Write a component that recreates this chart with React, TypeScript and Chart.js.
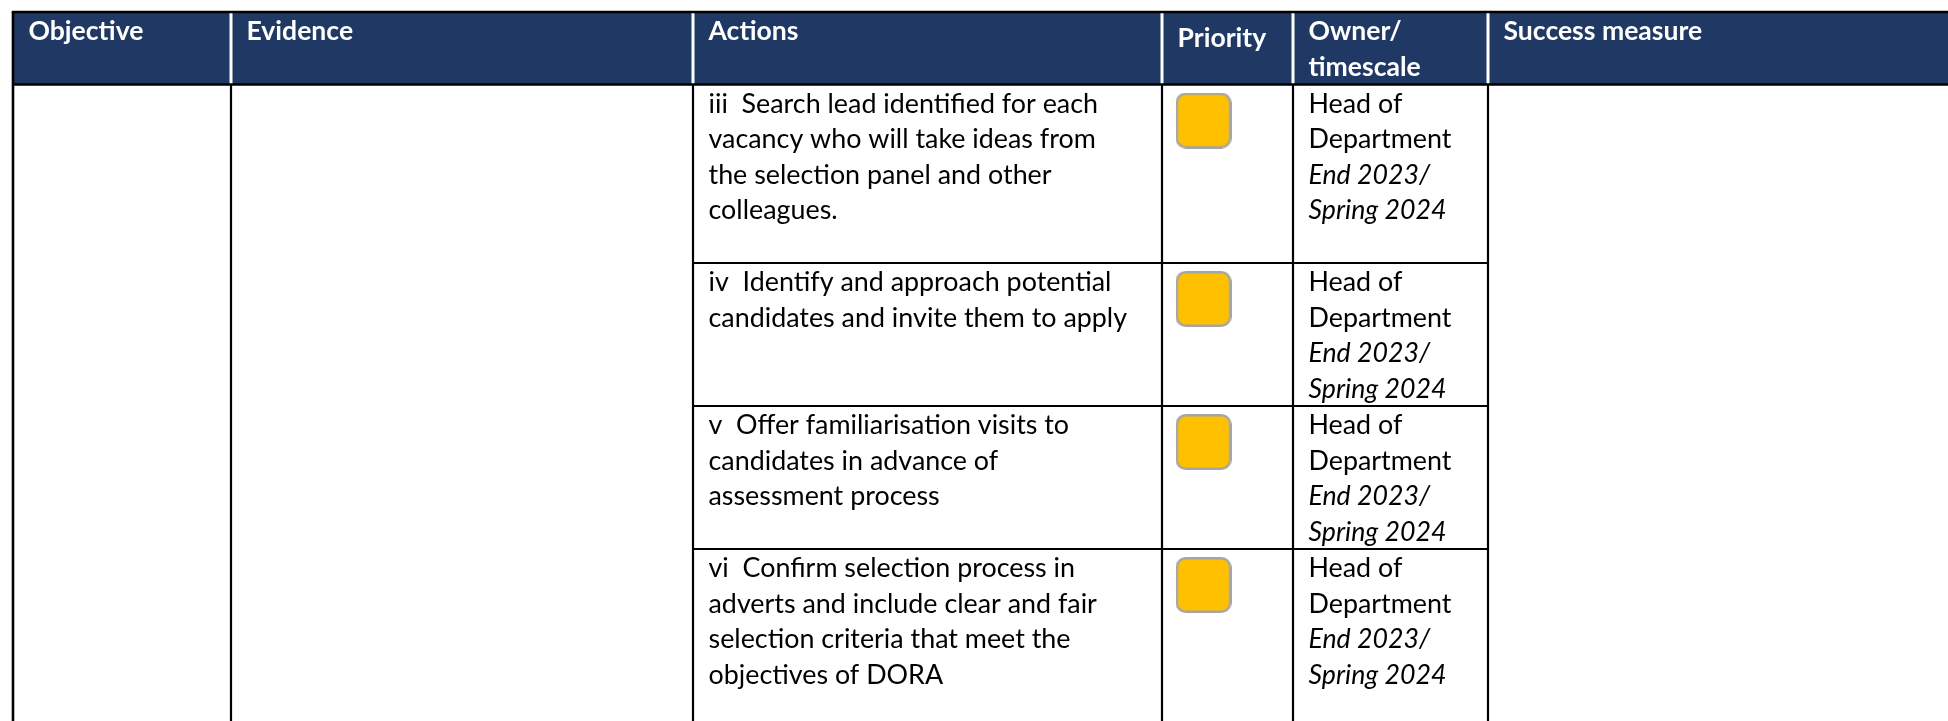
import React, { useEffect, useRef } from "react";
import { Chart, registerables } from "chart.js";

Chart.register(...registerables);

// ---------- data ----------
const headerLabels: string[][] = [
  ["Objective"],
  ["Evidence"],
  ["Actions"],
  ["Priority"],
  ["Owner/", "timescale"],
  ["Success measure"],
];

const actionLines: string[][] = [
  ["iii  Search lead identified for each", "vacancy who will take ideas from", "the selection panel and other", "colleagues.", ""],
  ["iv  Identify and approach potential", "candidates and invite them to apply"],
  ["v  Offer familiarisation visits to", "candidates in advance of", "assessment process"],
  ["vi  Confirm selection process in", "adverts and include clear and fair", "selection criteria that meet the", "objectives of DORA", ""],
];

const ownerLines: string[][] = [
  ["Head of", "Department"],
  ["Head of", "Department"],
  ["Head of", "Department"],
  ["Head of", "Department"],
];

const timescaleLines: string[][] = [
  ["End 2023/", "Spring 2024"],
  ["End 2023/", "Spring 2024"],
  ["End 2023/", "Spring 2024"],
  ["End 2023/", "Spring 2024"],
];

const priorities: string[] = ["Medium", "Medium", "Medium", "Medium"];

// ---------- styles / layout ----------
const W = 1948;
const H = 721;
const NAVY = "#1F3864";
const PRIORITY_COLOURS: Record<string, string> = { High: "#FF0000", Medium: "#FFC000", Low: "#00B050" };
const BOX_BORDER = "#A5A5A5";
const COL_EDGES = [13, 231, 693, 1162, 1293, 1488, W];
const TABLE_TOP = 12;
const HEADER_BOTTOM = 84.5;
const LINE = 35.5; // px per text line
const ROW_PAD = 1; // px
const BASELINE = 28; // px from cell top to first baseline
const CELL_PAD = 15.5;
const PRIORITY_HEADER_SHIFT = 7;
const BOX_SIZE = 56;
const BOX_INSET_X = 13.5;
const BOX_INSET_Y = 8;
const BOX_RADIUS = 9;
const FONT_STACK = "Lato, Carlito, Calibri, 'Noto Sans', sans-serif";

const rowCounts = actionLines.map((a, i) =>
  Math.max(a.length, ownerLines[i].length + timescaleLines[i].length)
);
const rowStarts: number[] = [];
{
  let acc = 0;
  rowCounts.forEach((c) => {
    rowStarts.push(acc);
    acc += c + ROW_PAD / LINE;
  });
  rowStarts.push(acc);
}

function makeBox(fill: string): HTMLCanvasElement {
  const cv = document.createElement("canvas");
  cv.width = BOX_SIZE;
  cv.height = BOX_SIZE;
  const c = cv.getContext("2d")!;
  const lw = 2.5;
  const x0 = lw / 2, y0 = lw / 2, w = BOX_SIZE - lw, h = BOX_SIZE - lw, r = BOX_RADIUS;
  c.beginPath();
  c.moveTo(x0 + r, y0);
  c.arcTo(x0 + w, y0, x0 + w, y0 + h, r);
  c.arcTo(x0 + w, y0 + h, x0, y0 + h, r);
  c.arcTo(x0, y0 + h, x0, y0, r);
  c.arcTo(x0, y0, x0 + w, y0, r);
  c.closePath();
  c.fillStyle = fill;
  c.fill();
  c.lineWidth = lw;
  c.strokeStyle = BOX_BORDER;
  c.stroke();
  return cv;
}

const tablePlugin = {
  id: "tableGrid",
  beforeDatasetsDraw(chart: any) {
    const { ctx } = chart;
    const xs = chart.scales.x;
    const ys = chart.scales.y;
    const px = (v: number) => xs.getPixelForValue(v);
    const py = (v: number) => ys.getPixelForValue(v);
    const linePx = py(1) - py(0);
    const top = py(-(HEADER_BOTTOM - TABLE_TOP) / LINE);
    const hb = py(0);
    const bottom = py(ys.max);
    const left = px(COL_EDGES[0]);
    const right = px(W);

    const fit = (fontFn: (s: number) => string, sample: string, target: number) => {
      ctx.font = fontFn(100);
      const w = ctx.measureText(sample).width;
      return (100 * target) / w;
    };
    const regFn = (s: number) => `${s}px ${FONT_STACK}`;
    const boldFn = (s: number) => `bold ${s}px ${FONT_STACK}`;
    const itFn = (s: number) => `italic ${s}px ${FONT_STACK}`;
    const regSize = fit(regFn, "Department", 143);
    const boldSize = fit(boldFn, "Objective", 115);
    const itSize = fit(itFn, "Spring 2024", 138);

    ctx.save();
    // header background
    ctx.fillStyle = NAVY;
    ctx.fillRect(left, top, right - left, hb - top);

    const line = (x1: number, y1: number, x2: number, y2: number, col: string, lw: number) => {
      ctx.beginPath();
      ctx.moveTo(x1, y1);
      ctx.lineTo(x2, y2);
      ctx.strokeStyle = col;
      ctx.lineWidth = lw;
      ctx.stroke();
    };

    // header separators (white)
    for (let i = 1; i < COL_EDGES.length - 1; i++) {
      const x = px(COL_EDGES[i]);
      line(x, top, x, hb, "#FFFFFF", 3);
    }
    // body vertical lines
    for (let i = 1; i < COL_EDGES.length - 1; i++) {
      const x = px(COL_EDGES[i]);
      line(x, hb, x, bottom, "#000000", 2.2);
    }
    // row separators (Actions..Owner)
    for (let r = 1; r < rowStarts.length; r++) {
      const y = py(rowStarts[r]);
      line(px(COL_EDGES[2]), y, px(COL_EDGES[5]), y, "#000000", 2.2);
    }
    // outer borders
    line(left - 1.2, top, right, top, "#000000", 2.6);
    line(left, top, left, bottom, "#000000", 2.6);
    line(left, hb, right, hb, "#000000", 2.6);

    // header text
    ctx.textBaseline = "alphabetic";
    ctx.textAlign = "left";
    ctx.fillStyle = "#FFFFFF";
    ctx.font = boldFn(boldSize);
    headerLabels.forEach((lines, i) => {
      const shift = i === 3 ? PRIORITY_HEADER_SHIFT : 0;
      lines.forEach((t, j) => {
        ctx.fillText(t, px(COL_EDGES[i]) + CELL_PAD, top + BASELINE + shift + j * linePx);
      });
    });

    // body text
    ctx.fillStyle = "#000000";
    actionLines.forEach((lines, r) => {
      const rt = py(rowStarts[r]);
      ctx.font = regFn(regSize);
      lines.forEach((t, j) => {
        ctx.fillText(t, px(COL_EDGES[2]) + CELL_PAD, rt + BASELINE + j * linePx);
      });
      const ox = px(COL_EDGES[4]) + CELL_PAD;
      ownerLines[r].forEach((t, j) => {
        ctx.font = regFn(regSize);
        ctx.fillText(t, ox, rt + BASELINE + j * linePx);
      });
      timescaleLines[r].forEach((t, j) => {
        ctx.font = itFn(itSize);
        ctx.fillText(t, ox, rt + BASELINE + (ownerLines[r].length + j) * linePx);
      });
    });
    ctx.restore();
  },
};

export default function App() {
  const ref = useRef<HTMLCanvasElement | null>(null);

  useEffect(() => {
    const canvas = ref.current;
    if (!canvas) return;
    const boxes: Record<string, HTMLCanvasElement> = {};
    Object.keys(PRIORITY_COLOURS).forEach((k) => (boxes[k] = makeBox(PRIORITY_COLOURS[k])));

    const points = priorities.map((_, i) => ({
      x: COL_EDGES[3] + BOX_INSET_X + BOX_SIZE / 2,
      y: rowStarts[i] + (BOX_INSET_Y + BOX_SIZE / 2) / LINE,
    }));

    const chart = new Chart(canvas, {
      type: "scatter",
      data: {
        datasets: [
          {
            label: "Priority",
            data: points,
            pointStyle: (c: any) => boxes[priorities[c.dataIndex]] as any,
            pointRadius: BOX_SIZE / 2,
            pointHoverRadius: BOX_SIZE / 2,
            backgroundColor: priorities.map((p) => PRIORITY_COLOURS[p]),
            borderColor: BOX_BORDER,
            clip: false,
          } as any,
        ],
      },
      options: {
        responsive: false,
        animation: false,
        devicePixelRatio: 1,
        events: [],
        layout: { padding: 0, autoPadding: false },
        plugins: {
          legend: { display: false },
          tooltip: { enabled: false },
          title: { display: false },
        },
        scales: {
          x: { type: "linear", display: false, min: 0, max: W },
          y: {
            type: "linear",
            display: false,
            reverse: true,
            min: -HEADER_BOTTOM / LINE,
            max: (H - HEADER_BOTTOM) / LINE,
          },
        },
      } as any,
      plugins: [tablePlugin],
    });

    let alive = true;
    if ((document as any).fonts && (document as any).fonts.ready) {
      (document as any).fonts.ready.then(() => {
        if (alive) chart.update();
      });
    }
    return () => {
      alive = false;
      chart.destroy();
    };
  }, []);

  return (
    <div style={{ position: "fixed", left: 0, top: 0, width: W, height: H, background: "#FFFFFF" }}>
      <canvas ref={ref} width={W} height={H} style={{ display: "block", width: W, height: H }} />
    </div>
  );
}
